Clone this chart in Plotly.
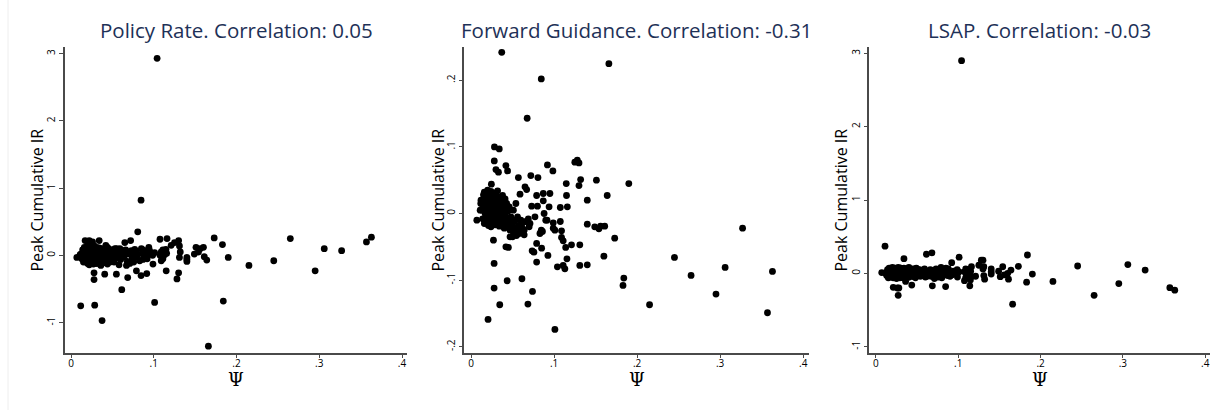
import plotly.graph_objects as go

# Psi (shared across the three panels) and peak cumulative impulse responses
psi = [
    0.363, 0.357, 0.327, 0.306, 0.295, 0.265, 0.245, 0.215, 0.190, 0.184,
    0.183, 0.173, 0.166, 0.164, 0.161, 0.160, 0.156, 0.154, 0.151, 0.149,
    0.140, 0.140, 0.140, 0.132, 0.131, 0.131, 0.130, 0.130, 0.128, 0.125,
    0.121, 0.116, 0.1155, 0.115, 0.1147, 0.114, 0.113, 0.111, 0.111, 0.109,
    0.109, 0.1075, 0.1075, 0.104, 0.101, 0.101, 0.099, 0.099, 0.0986, 0.095,
    0.094, 0.0926, 0.092, 0.0915, 0.090, 0.088, 0.087, 0.087, 0.086, 0.0846,
    0.0846, 0.085, 0.083, 0.0806, 0.080, 0.079, 0.079, 0.079, 0.077, 0.0757,
    0.0736, 0.074, 0.073, 0.072, 0.071, 0.069, 0.0685, 0.068, 0.0676, 0.067,
    0.066, 0.065, 0.064, 0.062, 0.0613, 0.060, 0.059, 0.058, 0.057, 0.0548,
    0.007, 0.0117, 0.011, 0.0205, 0.0346, 0.0286, 0.0278, 0.0278, 0.0375, 0.037,
    0.0435, 0.0407, 0.027, 0.0282, 0.034, 0.028, 0.030, 0.033, 0.042, 0.044,
    0.0245, 0.042, 0.045, 0.021, 0.026, 0.036, 0.017, 0.022, 0.047, 0.050,
    0.052, 0.046, 0.040, 0.053, 0.055, 0.049, 0.048, 0.051, 0.054, 0.056,
    0.012, 0.013, 0.014, 0.015, 0.015, 0.016, 0.016, 0.017, 0.017, 0.018,
    0.018, 0.019, 0.019, 0.020, 0.020, 0.020, 0.021, 0.021, 0.022, 0.022,
    0.022, 0.023, 0.023, 0.023, 0.024, 0.024, 0.024, 0.025, 0.025, 0.025,
    0.026, 0.026, 0.026, 0.027, 0.027, 0.027, 0.028, 0.028, 0.028, 0.029,
    0.029, 0.029, 0.030, 0.030, 0.030, 0.031, 0.031, 0.031, 0.032, 0.032,
    0.032, 0.033, 0.033, 0.034, 0.034, 0.035, 0.035, 0.035, 0.036, 0.036,
    0.037, 0.037, 0.038, 0.038, 0.039, 0.039, 0.040, 0.040, 0.041, 0.041,
    0.042, 0.043, 0.043, 0.044, 0.045, 0.045, 0.046, 0.047, 0.048, 0.049,
    0.050, 0.051, 0.052, 0.053, 0.055, 0.057, 0.059, 0.062, 0.064, 0.070,
]

ir_policy = [
    0.27, 0.20, 0.07, 0.10, -0.23, 0.25, -0.08, -0.15, -0.03, -0.68,
    0.16, 0.26, -1.35, -0.07, -0.02, 0.12, 0.10, 0.05, 0.12, 0.02,
    -0.03, -0.09, -0.06, 0.05, 0.14, -0.03, 0.22, -0.26, -0.35, 0.19,
    0.15, 0.25, 0.03, -0.23, 0.09, 0.06, 0.01, -0.05, 0.08, -0.08,
    0.05, 0.24, 0.00, 2.93, -0.70, 0.04, -0.13, 0.03, 0.00, 0.07,
    0.12, 0.02, -0.05, -0.27, 0.05, -0.02, 0.08, -0.06, 0.03, 0.82,
    -0.30, 0.10, -0.08, 0.35, 0.00, -0.23, 0.06, -0.03, 0.09, -0.10,
    0.04, -0.04, 0.07, 0.22, -0.12, 0.02, -0.33, -0.09, 0.05, -0.15,
    0.08, 0.19, -0.02, 0.03, -0.51, -0.06, 0.10, -0.14, 0.02, -0.28,
    -0.03, -0.75, 0.01, 0.05, -0.08, -0.74, -0.36, -0.26, -0.97, 0.06,
    -0.05, -0.28, 0.03, -0.10, 0.22, 0.12, -0.12, 0.08, 0.15, -0.13,
    0.09, -0.06, 0.10, -0.02, 0.20, -0.15, 0.22, 0.22, -0.04, 0.06,
    -0.10, 0.04, -0.09, 0.10, 0.03, -0.02, 0.08, -0.07, 0.05, -0.04,
    0.02, -0.05, 0.08, -0.10, 0.03, 0.12, -0.02, 0.05, -0.08, 0.10,
    -0.04, 0.00, 0.07, -0.12, 0.04, 0.15, -0.06, 0.09, 0.01, -0.14,
    0.06, -0.03, 0.11, 0.02, -0.09, 0.05, 0.13, -0.01, 0.08, -0.11,
    0.03, -0.06, 0.10, 0.00, -0.13, 0.07, 0.04, -0.08, 0.14, -0.02,
    0.06, -0.10, 0.01, 0.09, -0.05, 0.12, -0.07, 0.03, -0.01, 0.08,
    -0.12, 0.05, 0.00, -0.04, 0.11, 0.02, -0.09, 0.07, 0.04, -0.03,
    0.10, -0.06, 0.01, 0.08, -0.11, 0.03, 0.06, -0.02, 0.09, -0.08,
    0.00, 0.05, -0.05, 0.12, -0.03, 0.07, 0.02, -0.10, 0.04, 0.08,
    -0.06, 0.03, 0.06, -0.02, 0.10, 0.01, -0.04, 0.07, 0.02, 0.05,
]

ir_fg = [
    -0.087, -0.149, -0.022, -0.081, -0.121, -0.093, -0.066, -0.137, 0.045, -0.097,
    -0.108, -0.037, 0.225, 0.027, -0.019, -0.064, -0.019, -0.023, 0.050, -0.020,
    0.020, -0.016, -0.077, 0.051, -0.078, -0.047, 0.042, 0.076, 0.080, 0.077,
    -0.047, 0.010, -0.068, 0.027, 0.045, -0.051, -0.083, -0.078, -0.041, -0.036,
    -0.026, -0.012, 0.009, -0.080, -0.174, -0.025, -0.022, -0.014, 0.064, 0.030,
    0.010, -0.063, 0.073, -0.010, -0.010, 0.000, 0.030, 0.019, -0.027, 0.202,
    -0.025, -0.052, -0.030, 0.054, 0.011, 0.027, -0.073, -0.045, -0.005, -0.058,
    -0.056, -0.117, 0.011, 0.057, -0.015, -0.008, -0.136, -0.012, 0.143, 0.036,
    -0.012, 0.040, -0.025, -0.022, -0.098, -0.010, 0.029, -0.030, 0.054, -0.033,
    -0.010, 0.015, 0.005, -0.159, -0.137, 0.010, -0.112, -0.075, 0.020, 0.242,
    -0.101, 0.015, -0.040, 0.100, 0.097, 0.079, 0.066, 0.062, 0.072, 0.064,
    0.044, -0.050, -0.051, 0.002, 0.012, 0.005, 0.025, 0.030, -0.035, -0.035,
    -0.032, -0.021, -0.020, -0.010, -0.025, -0.015, -0.005, 0.005, 0.015, -0.005,
    0.020, 0.005, -0.008, 0.028, 0.012, -0.015, 0.032, 0.000, 0.018, -0.005,
    0.025, 0.010, -0.012, 0.035, 0.003, 0.022, -0.018, 0.015, 0.030, -0.002,
    0.008, 0.026, -0.010, 0.017, 0.004, 0.033, -0.020, 0.012, 0.021, -0.006,
    0.029, 0.001, 0.016, -0.014, 0.024, 0.009, -0.003, 0.031, 0.013, -0.017,
    0.019, 0.006, 0.027, -0.009, 0.014, 0.002, 0.023, -0.012, 0.034, 0.007,
    -0.004, 0.018, 0.011, -0.019, 0.025, 0.003, 0.016, -0.007, 0.021, 0.000,
    0.012, -0.015, 0.027, 0.005, -0.010, 0.017, 0.002, -0.022, 0.010, 0.022,
    -0.005, 0.008, 0.015, -0.012, 0.004, -0.018, 0.010, -0.025, -0.008, -0.015,
    -0.020, -0.028, -0.012, -0.022, -0.030, -0.018, -0.025, -0.014, -0.032, -0.020,
]

ir_lsap = [
    -0.23, -0.195, 0.045, 0.12, -0.14, -0.30, 0.10, -0.11, -0.01, 0.25,
    -0.12, 0.095, -0.42, 0.045, -0.08, 0.00, -0.02, 0.09, -0.045, 0.03,
    0.06, 0.02, -0.01, -0.08, 0.09, -0.03, 0.18, 0.06, 0.18, 0.11,
    -0.04, 0.09, -0.05, 0.03, -0.09, -0.17, 0.05, -0.02, 0.00, 0.06,
    -0.06, 0.02, -0.10, 2.90, 0.22, 0.02, 0.00, -0.05, 0.05, 0.00,
    0.03, -0.02, 0.145, 0.01, -0.04, 0.06, 0.02, -0.03, 0.04, -0.18,
    0.00, 0.07, -0.02, 0.05, -0.06, 0.08, 0.03, -0.01, 0.05, -0.05,
    0.02, -0.03, 0.06, 0.00, -0.07, 0.04, -0.17, 0.28, 0.02, -0.04,
    0.05, 0.01, -0.02, 0.03, 0.26, -0.05, 0.04, 0.00, -0.03, 0.02,
    0.01, 0.00, 0.37, -0.02, 0.03, -0.04, 0.05, -0.20, 0.02, -0.05,
    -0.16, 0.04, -0.30, 0.06, 0.20, -0.03, 0.07, -0.06, 0.03, -0.02,
    0.04, 0.05, -0.04, -0.19, -0.20, -0.11, 0.02, -0.01, 0.06, -0.03,
    0.02, 0.00, -0.05, 0.04, -0.02, 0.03, -0.06, 0.05, -0.04, 0.01,
    0.01, -0.03, 0.05, 0.00, -0.06, 0.03, 0.07, -0.02, 0.04, -0.05,
    0.02, 0.06, -0.01, 0.03, -0.04, 0.08, 0.00, -0.06, 0.05, 0.01,
    -0.03, 0.04, 0.07, -0.02, 0.02, -0.05, 0.06, 0.00, -0.07, 0.03,
    0.05, -0.01, 0.02, 0.08, -0.04, 0.01, 0.06, -0.03, 0.00, 0.04,
    -0.06, 0.02, 0.07, -0.02, 0.03, -0.05, 0.05, 0.01, -0.03, 0.06,
    0.00, 0.04, -0.04, 0.02, 0.07, -0.01, 0.03, -0.06, 0.05, 0.00,
    0.02, 0.06, -0.03, 0.04, -0.02, 0.01, 0.08, -0.05, 0.03, 0.00,
    0.05, -0.02, 0.02, 0.06, -0.04, 0.01, 0.03, -0.01, 0.04, 0.07,
    -0.03, 0.02, 0.00, 0.05, -0.02, 0.03, 0.06, -0.04, 0.01, 0.02,
]

panel_titles = [
    "Policy Rate. Correlation: 0.05",
    "Forward Guidance. Correlation: -0.31",
    "LSAP. Correlation: -0.03",
]
x_tickvals = [0, 0.1, 0.2, 0.3, 0.4]
x_ticktext = ["0", ".1", ".2", ".3", ".4"]
y_tickvals_policy = [-1, 0, 1, 2, 3]
y_ticktext_policy = ["-1", "0", "1", "2", "3"]
y_tickvals_fg = [-0.2, -0.1, 0, 0.1, 0.2]
y_ticktext_fg = ["-.2", "-.1", "0", ".1", ".2"]
y_tickvals_lsap = [-1, 0, 1, 2, 3]
y_ticktext_lsap = ["-1", "0", "1", "2", "3"]

W, H = 1210, 410
TOP, BOTTOM = 47, 352.7  # plot region in pixels


def px_x(v):
    return v / W


def px_y(v):
    return (H - v) / H


panels = [
    dict(y=ir_policy, left=65, right=407, xr=[-0.0073, 0.406], yr=[-1.447, 3.098],
         tv=y_tickvals_policy, tt=y_ticktext_policy, ylab=36.7),
    dict(y=ir_fg, left=464.3, right=809, xr=[-0.0081, 0.407], yr=[-0.209, 0.250],
         tv=y_tickvals_fg, tt=y_ticktext_fg, ylab=437.7),
    dict(y=ir_lsap, left=869.3, right=1210, xr=[-0.0081, 0.4058], yr=[-1.082, 3.086],
         tv=y_tickvals_lsap, tt=y_ticktext_lsap, ylab=840.7),
]

fig = go.Figure()
layout = dict(
    width=W, height=H,
    margin=dict(l=0, r=0, t=0, b=0),
    paper_bgcolor="white", plot_bgcolor="white",
    showlegend=False,
    font=dict(family="Open Sans, DejaVu Sans, sans-serif", color="black"),
)
annotations = []
axis_color = "#4a4a4a"

for i, p in enumerate(panels, start=1):
    sfx = "" if i == 1 else str(i)
    fig.add_trace(go.Scatter(
        x=psi, y=p["y"], mode="markers",
        marker=dict(color="black", size=6.8, line=dict(width=0)),
        xaxis="x" + sfx, yaxis="y" + sfx, hoverinfo="skip",
    ))
    layout["xaxis" + sfx] = dict(
        domain=[px_x(p["left"]), px_x(p["right"])], range=p["xr"],
        anchor="y" + sfx, showgrid=False, zeroline=False,
        showline=True, linecolor=axis_color, linewidth=1.5,
        ticks="outside", ticklen=4, tickwidth=1.2, tickcolor=axis_color,
        tickvals=x_tickvals, ticktext=x_ticktext, ticklabelstandoff=-3,
        tickfont=dict(size=10, color="black"),
    )
    layout["yaxis" + sfx] = dict(
        domain=[px_y(BOTTOM), px_y(TOP)], range=p["yr"],
        anchor="x" + sfx, showgrid=False, zeroline=False,
        showline=True, linecolor=axis_color, linewidth=1.5,
        ticks="outside", ticklen=4, tickwidth=1.2, tickcolor=axis_color,
        tickvals=p["tv"], ticktext=p["tt"], tickangle=-90,
        tickfont=dict(size=10, color="black"),
    )
    center = (p["left"] + p["right"]) / 2
    annotations.append(dict(
        text=panel_titles[i - 1], x=px_x(center), y=px_y(30.5),
        xref="paper", yref="paper", xanchor="center", yanchor="middle",
        showarrow=False, font=dict(size=20.5, color="#1e3157"),
    ))
    annotations.append(dict(
        text="Peak Cumulative IR", x=px_x(p["ylab"]), y=px_y((TOP + BOTTOM) / 2),
        xref="paper", yref="paper", xanchor="center", yanchor="middle",
        textangle=-90, showarrow=False, font=dict(size=16, color="black"),
    ))
    annotations.append(dict(
        text="\u03a8", x=px_x(center), y=px_y(379),
        xref="paper", yref="paper", xanchor="center", yanchor="middle",
        showarrow=False,
        font=dict(size=18, color="black", family="DejaVu Serif, Liberation Serif, serif"),
    ))

layout["annotations"] = annotations
layout["shapes"] = [dict(
    type="line", xref="paper", yref="paper",
    x0=px_x(8), x1=px_x(8), y0=0, y1=1,
    line=dict(color="#eeeeee", width=1),
)]
fig.update_layout(**layout)
fig.write_html("out.html")
